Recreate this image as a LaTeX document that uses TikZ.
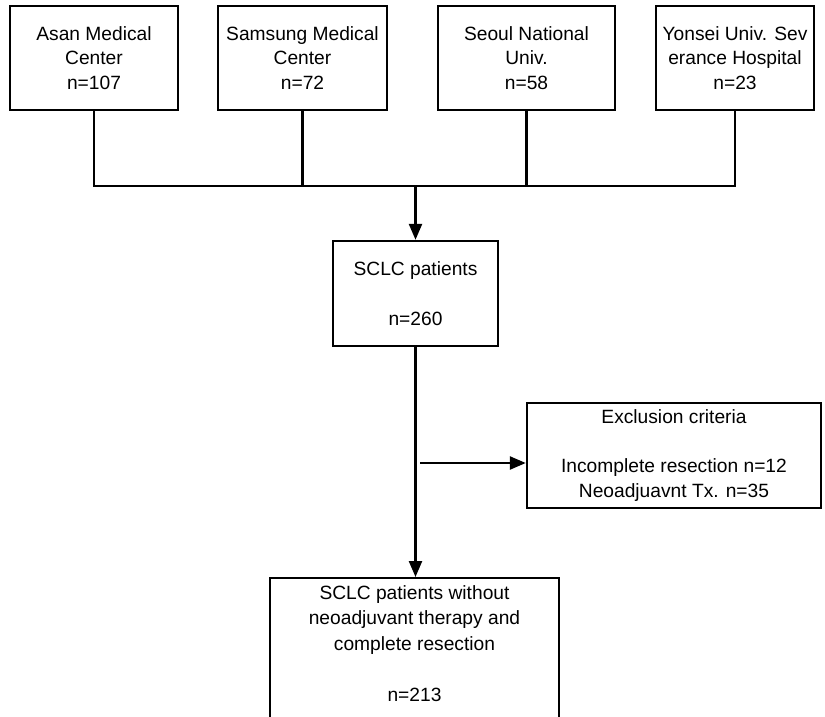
\documentclass[tikz,border=0pt]{standalone}
\usepackage{fontspec}
\setmainfont{Liberation Sans}
\usetikzlibrary{arrows.meta}

\begin{document}
\begin{tikzpicture}[x=0.5pt,y=-0.5pt,line width=1.2pt,
                    box/.style = {draw,align=center,inner sep=0pt,font=\fontsize{9.6}{12.4}\selectfont},
                    arrow/.style = {-{Triangle[length=8pt,width=6.5pt]}}]
                    \clip (0,0) rectangle (825,717);

                    \node[box,minimum width=84pt,minimum height=52pt] (asan) at (94,58) {Asan Medical\\Center\\n=107};
                    \node[box,minimum width=84.5pt,minimum height=52pt] (samsung) at (302.5,58) {Samsung Medical\\Center\\n=72};
                    \node[box,minimum width=88.5pt,minimum height=52pt] (seoul) at (526.5,58) {Seoul National\\Univ.\\n=58};
                    \node[box,minimum width=79pt,minimum height=52pt] (yonsei) at (735,58) {Yonsei Univ. Sev\\erance Hospital\\n=23};

                    \node[box,minimum width=82.5pt,minimum height=52.5pt] (sclc) at (415.5,293.5) {SCLC patients\\ \\n=260};
                    \node[box,minimum width=147pt,minimum height=52.5pt] (excl) at (674,455.5) {Exclusion criteria\\ \\Incomplete resection n=12\\Neoadjuavnt Tx. n=35};
                    \node[box,anchor=north,minimum width=144.5pt,inner ysep=3.5pt,text depth=90pt,font=\fontsize{9.6}{12.8}\selectfont] (final) at (414.5,577) {SCLC patients without\\neoadjuvant therapy and\\complete resection\\ \\n=213};

                    \coordinate (join) at (415.5,186);
                    \coordinate (split) at (420,463);

                    \draw (asan.south) -- (asan.south |- join) -- (yonsei.south |- join) -- (yonsei.south);
                    \draw (samsung.south) -- (samsung.south |- join);
                    \draw (seoul.south) -- (seoul.south |- join);
                    \draw[arrow] (join) -- (sclc.north);

                    \draw[arrow] (sclc.south) -- (sclc.south |- final.north);
                    \draw[arrow] (split) -- (split -| excl.west);
                \end{tikzpicture}
\end{document}
